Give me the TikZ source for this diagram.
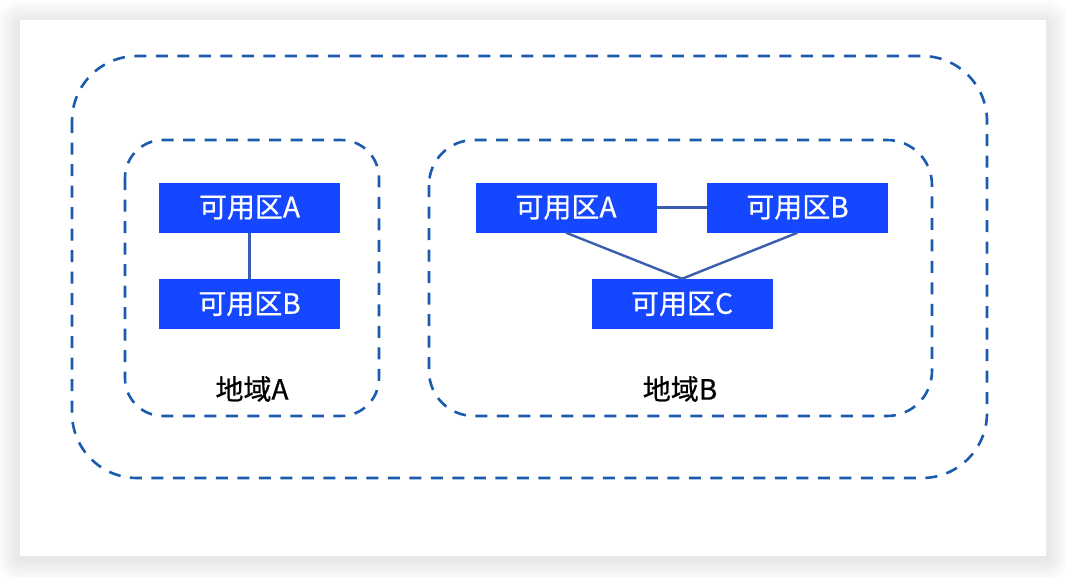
\documentclass[tikz,border=0pt]{standalone}
\usepackage{fontspec}
\setmainfont{Noto Sans CJK SC}
\newfontfamily\medfont[FakeBold=0.6]{Noto Sans CJK SC}
\definecolor{boxblue}{HTML}{1447FF}
\definecolor{dashblue}{HTML}{1A5BAF}
\definecolor{lineblue}{HTML}{3A5DB0}
\tikzset{
  zone/.style={draw=dashblue, line width=2.6pt, dash pattern=on 12pt off 9.5pt},
  azbox/.style={fill=boxblue, draw=none, minimum width=181pt, minimum height=50pt, inner sep=0pt, text=white, font=\medfont\fontsize{28}{32}\selectfont},
  link/.style={draw=lineblue, line width=2.4pt},
  lbl/.style={font=\medfont\fontsize{28}{32}\selectfont, text=black, inner sep=0pt}
}
\begin{document}
\begin{tikzpicture}[x=1pt,y=-1pt]
\useasboundingbox (0,0) rectangle (1066,576);
\fill[white] (0,0) rectangle (1066,576);
\foreach \i in {1,...,24}{
  \fill[black, opacity=0.0055, rounded corners=\i pt] (20-\i,20-\i+3) rectangle (1046+\i,556+\i+3);
}
\node[draw=none, fill=white, minimum width=1026pt, minimum height=536pt, inner sep=0pt] (card) at (533,288) {};
% zones
\draw[zone, rounded corners=65pt] (72,56) rectangle (987,478);
\draw[zone, rounded corners=38pt] (125,140) rectangle (379,416);
\draw[zone, rounded corners=45pt] (429,140) rectangle (932,416);
% region A
\node[azbox] (a1) at (249.5,207.5) {可用区A};
\node[azbox] (a2) at (249.5,304) {可用区B};
\draw[link] (a1.south) -- (a2.north);
\node[lbl] (ra) at (252,389) {地域A};
% region B
\node[azbox] (b1) at (566,207.5) {可用区A};
\node[azbox] (b2) at (797.5,207.5) {可用区B};
\node[azbox] (b3) at (682,304) {可用区C};
\draw[link] (b1.east) -- (b2.west);
\draw[link] (b1.south) -- (b3.north);
\draw[link] (b2.south) -- (b3.north);
\node[lbl] (rb) at (680,389) {地域B};
\end{tikzpicture}
\end{document}
